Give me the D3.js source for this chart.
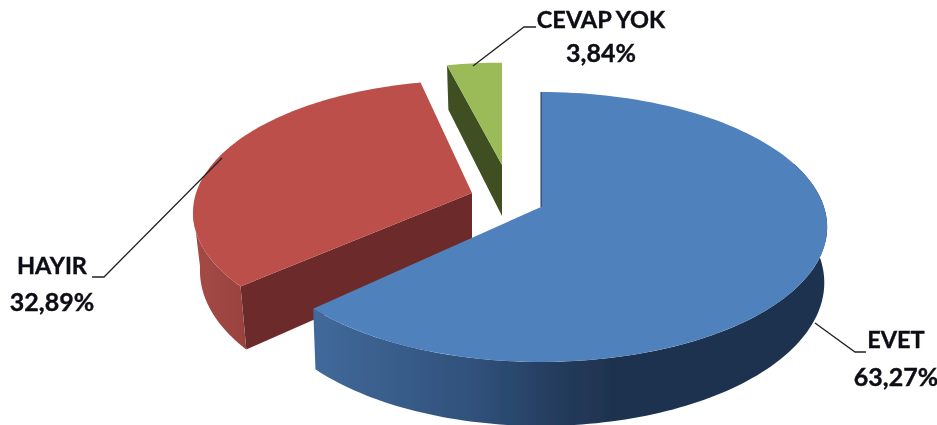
<!DOCTYPE html>
<html><head><meta charset="utf-8">
<script src="https://cdn.jsdelivr.net/npm/d3@7"></script>
<style>html,body{margin:0;padding:0;background:#fff}svg{display:block}</style>
</head><body><div id="chart"></div>
<script>
const categories = ["EVET", "HAYIR", "CEVAP YOK"];
const values = [63.27, 32.89, 3.84];

const W = 937, H = 425;
const topColors = ["#4f81bd", "#bd4f4b", "#9bbb59"];
const cutColors = ["#1f3350", "#6d2c2a", "#3f4f22"];
// slice placement: exploded apex, scale of the ellipse, extrusion depth
const apexX = [541, 472, 502], apexY = [207, 193, 165];
const scaleX = [1, 0.975, 0.93], scaleY = [1, 0.98, 0.89];
const depth = [54.5, 57, 51];
const bottomShrink = [0.99, 0.975, 0.975];
const viewNudgeStart = [0, 1.5, 0], viewNudgeEnd = [-1.5, 1.5, 0];   // degrees, perspective correction
const sideFrom = [70, 263, null];        // degrees where outer wall starts being visible
const labelX = [896, 52, 601];
const labelY = [[348, 386], [274, 311], [28, 62]];
const leaders = [
  [[815, 323], [855, 352], [866, 352]],
  [[222, 158], [104, 277], [92, 277]],
  [[473, 66], [524, 27], [536, 27]]
];

const RX = 283, RY = 132, K = 0.148;
const rad = Math.PI / 180;

const svg = d3.select("#chart").append("svg").attr("width", W).attr("height", H);
const defs = svg.append("defs");
const grad = (id, x1, x2, stops) => {
  const g = defs.append("linearGradient").attr("id", id).attr("gradientUnits", "userSpaceOnUse")
    .attr("x1", x1).attr("x2", x2).attr("y1", 0).attr("y2", 0);
  stops.forEach(s => g.append("stop").attr("offset", s[0]).attr("stop-color", s[1]));
};
grad("sideBlue", 317, 610, [[0, "#41699a"], [0.55, "#30507a"], [0.85, "#233a5a"], [1, "#1f3350"]]);
grad("sideRed", 193, 250, [[0, "#a54a46"], [1, "#97423e"]]);
defs.append("filter").attr("id", "soft").append("feGaussianBlur").attr("stdDeviation", 0.45);

const pie = d3.pie().sort(null).startAngle(0).endAngle(2 * Math.PI);
const arcs = pie(values);

function project(i, theta, low) {
  const u = Math.sin(theta), v = Math.cos(theta), w = 1 + K * v;
  const s = low ? bottomShrink[i] : 1;
  return [
    apexX[i] + s * RX * scaleX[i] * u / w,
    apexY[i] - RY * scaleY[i] * v / w + (low ? depth[i] / w : 0)
  ];
}
const line = d3.line().curve(d3.curveLinear);
const samples = (a, b) => d3.range(0, 121).map(t => a + (b - a) * t / 120);

const g = svg.append("g").attr("filter", "url(#soft)");
[2, 1, 0].forEach(i => {
  const a = arcs[i].startAngle + viewNudgeStart[i] * rad, b = arcs[i].endAngle + viewNudgeEnd[i] * rad;
  const apexTop = [apexX[i], apexY[i]], apexLow = [apexX[i], apexY[i] + depth[i]];

  // cut face that looks toward the viewer
  if (i > 0) {
    g.append("path").attr("fill", cutColors[i])
      .attr("d", line([apexTop, project(i, a, false), project(i, a, true), apexLow]) + "Z");
  }
  // outer wall
  if (sideFrom[i] !== null) {
    const from = sideFrom[i] * rad;
    const end = i === 0 ? b : a;
    const th = i === 0 ? samples(from, end) : samples(a, from);
    const pts = th.map(t => project(i, t, false)).concat(th.slice().reverse().map(t => project(i, t, true)));
    g.append("path").attr("fill", i === 0 ? "url(#sideBlue)" : "url(#sideRed)").attr("d", line(pts) + "Z");
  }
  // top face
  const top = [apexTop].concat(samples(a, b).map(t => project(i, t, false)));
  g.append("path").attr("fill", topColors[i]).attr("d", line(top) + "Z");
  if (i === 0) {
    g.append("path").attr("fill", "none").attr("stroke", cutColors[0]).attr("stroke-width", 1)
      .attr("d", line([project(0, a, false), apexTop]));
  }
});

const leader = svg.append("g").attr("filter", "url(#soft)");
leaders.forEach(l => leader.append("path").attr("fill", "none").attr("stroke", "#222").attr("stroke-width", 1.3).attr("d", line(l)));

const fmt = v => d3.format(".2f")(v).replace(".", ",") + "%";
const labels = svg.append("g").attr("filter", "url(#soft)")
  .attr("font-family", "Lato, 'Open Sans', sans-serif").attr("font-weight", 700)
  .attr("fill", "#0a0a14").attr("stroke", "#0a0a14").attr("stroke-width", 0.35).attr("text-anchor", "middle");
categories.forEach((c, i) => {
  labels.append("text").attr("x", labelX[i]).attr("y", labelY[i][0]).attr("font-size", 23.5).text(c);
  labels.append("text").attr("x", labelX[i]).attr("y", labelY[i][1]).attr("font-size", 25).text(fmt(values[i]));
});
</script></body></html>
